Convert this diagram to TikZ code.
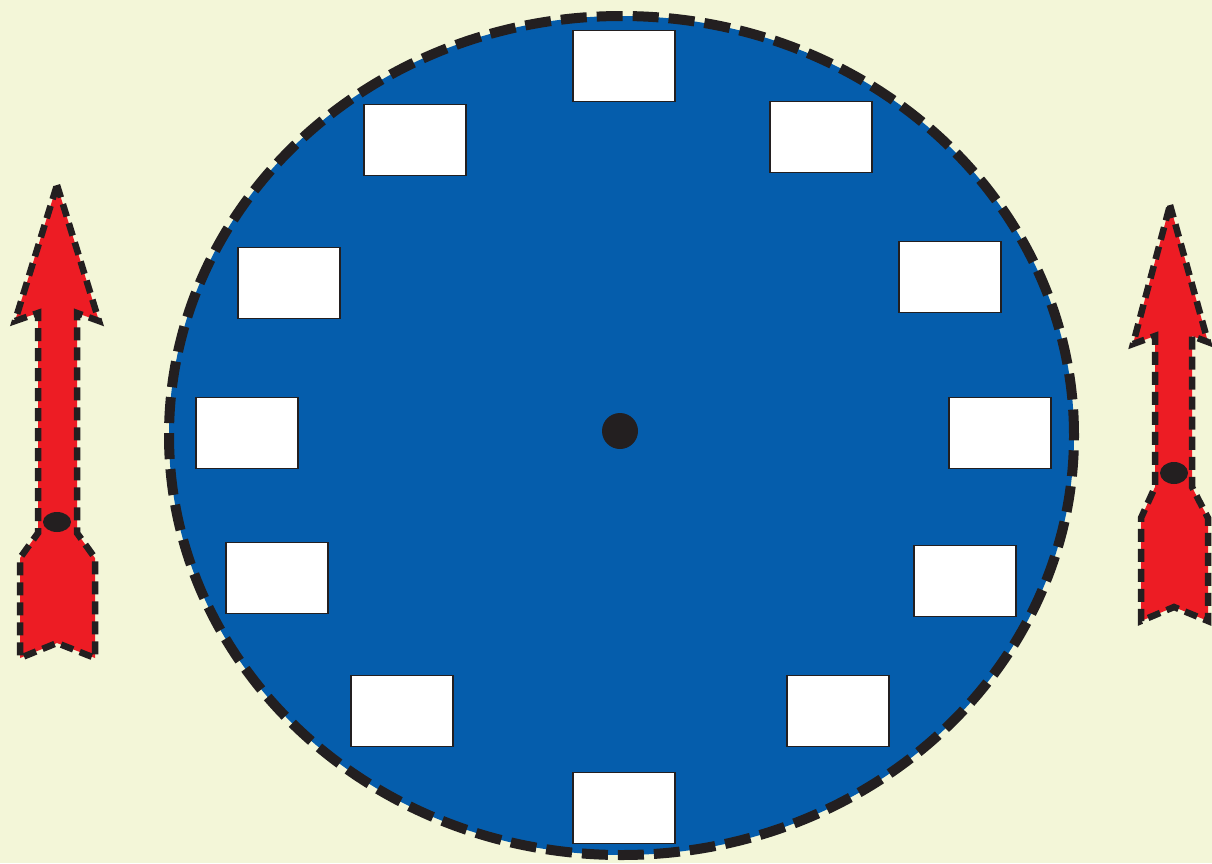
\documentclass[tikz,border=0pt]{standalone}
\usetikzlibrary{positioning}

\definecolor{cream}{RGB}{243,246,216}
\definecolor{dialblue}{RGB}{5,93,172}
\definecolor{handred}{RGB}{237,28,36}
\definecolor{inkblack}{RGB}{35,31,32}

\tikzset{
  numbox/.style={draw=inkblack, fill=white, line width=1.5pt, minimum width=102pt, minimum height=71pt, inner sep=0pt},
  hand/.style={fill=handred, draw=inkblack, line width=6.5pt, dash pattern=on 13pt off 7pt, line join=miter},
}

\begin{document}
\begin{tikzpicture}[x=1pt, y=-1pt]
% Background
\fill[cream] (0,0) rectangle (1212,863);
\useasboundingbox (0,0) rectangle (1212,863);

% Draw the dial
\fill[dialblue] (621.5,435.5) ellipse (452.5pt and 419.5pt);
\draw[inkblack, line width=10pt, dash pattern=on 26pt off 10pt] (621.5,435.5) ellipse (452.5pt and 419.5pt);

% Empty boxes for the hours
\foreach \name/\x/\y in {h12/624/66, h1/821/137, h2/950/277, h3/1000/433, h4/965/581, h5/838/711,
                         h6/624/808, h7/402/711, h8/277/578, h9/247/433, h10/289/283, h11/415/140}
  \node[numbox] (\name) at (\x,\y) {};

% Centre pin
\fill[inkblack] (620,431) circle (18pt);

% Left hand
\draw[hand] (57,185) -- (99,321) -- (77,313) -- (77,533) -- (95,558) -- (95,658) -- (57,643)
  -- (20,658) -- (20,558) -- (38,533) -- (38,313) -- (15,321) -- cycle;
\fill[inkblack] (57,522) ellipse (14pt and 10pt);

% Right hand
\draw[hand] (1170,205) -- (1208,342) -- (1192,336) -- (1192,487) -- (1208,518) -- (1208,621) -- (1174,607)
  -- (1141,621) -- (1141,518) -- (1155,487) -- (1155,336) -- (1133,344) -- cycle;
\fill[inkblack] (1174,473) ellipse (14pt and 11pt);
\end{tikzpicture}
\end{document}
